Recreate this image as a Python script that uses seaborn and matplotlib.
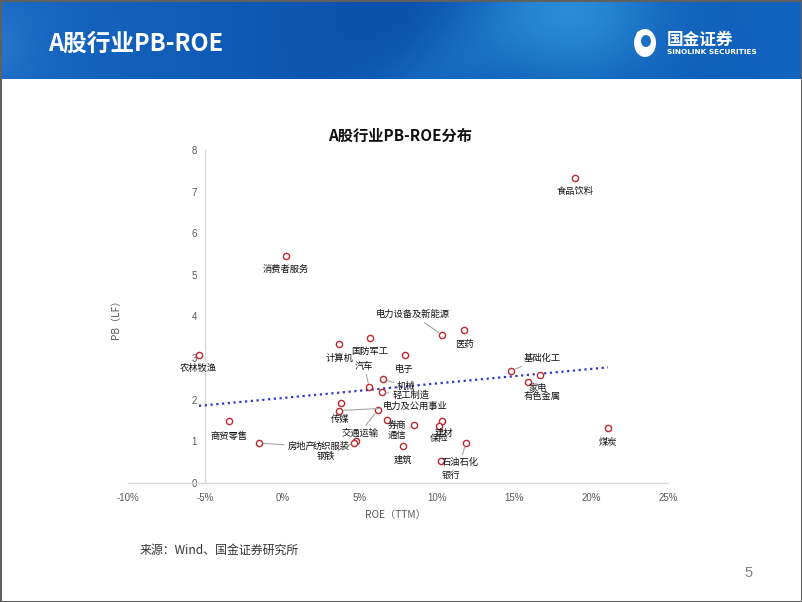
import numpy as np
import pandas as pd
import matplotlib
matplotlib.use('Agg')
import matplotlib.pyplot as plt
import seaborn as sns
from matplotlib.patches import Rectangle, Ellipse

# ---------------- data ----------------
industries = ['食品饮料', '消费者服务', '农林牧渔', '商贸零售', '房地产', '计算机', '国防军工',
              '电力设备及新能源', '医药', '电子', '汽车', '机械', '轻工制造', '传媒',
              '电力及公用事业', '交通运输', '券商', '通信', '纺织服装', '钢铁', '建材', '保险',
              '石油石化', '银行', '建筑', '基础化工', '家电', '有色金属', '煤炭']
roe = [18.97, 0.22, -5.40, -3.43, -1.49, 3.69, 5.68,
       10.35, 11.78, 7.97, 5.64, 6.55, 6.44, 3.80,
       3.69, 6.18, 6.77, 8.55, 4.76, 4.68, 10.33, 10.17,
       11.91, 10.29, 7.80, 14.82, 16.70, 15.92, 21.11]
pb = [7.33, 5.46, 3.08, 1.48, 0.96, 3.35, 3.49,
      3.56, 3.67, 3.07, 2.30, 2.49, 2.18, 1.92,
      1.74, 1.75, 1.51, 1.39, 1.02, 0.97, 1.50, 1.37,
      0.97, 0.54, 0.89, 2.70, 2.60, 2.43, 1.32]

x_ticks = [-10, -5, 0, 5, 10, 15, 20, 25]
x_tick_labels = ['-10%', '-5%', '0%', '5%', '10%', '15%', '20%', '25%']
y_ticks = [0, 1, 2, 3, 4, 5, 6, 7, 8]
y_tick_labels = ['0', '1', '2', '3', '4', '5', '6', '7', '8']

# label placement (pixel offsets from the point) and leader-line flag -- styling only
label_style = {
    '食品饮料': ((0, -14), False), '消费者服务': ((0, -14), False), '农林牧渔': ((-1, -14), False),
    '商贸零售': ((0, -15), False), '房地产': ((42, -3), True), '计算机': ((0, -14.5), False),
    '国防军工': ((0, -13.5), False), '电力设备及新能源': ((-29, 20), True), '医药': ((0, -14), False),
    '电子': ((-1, -14), False), '汽车': ((-5, 21), True), '机械': ((23, -7), True),
    '轻工制造': ((29, -3), True), '传媒': ((-1, -16), False), '电力及公用事业': ((76, 4), True),
    '交通运输': ((-18, -23), True), '券商': ((10, -6), True), '通信': ((-17, -10), True),
    '纺织服装': ((-25, -6), False), '钢铁': ((-29, -14), True), '建材': ((2, -12.5), False),
    '保险': ((0, -13), False), '石油石化': ((-6, -20), True), '银行': ((10, -15), False),
    '建筑': ((0, -14), False), '基础化工': ((31, 12), True), '家电': ((-2, -14), False),
    '有色金属': ((14, -15), False), '煤炭': ((0, -14), False),
}

df = pd.DataFrame({'industry': industries, 'roe': roe, 'pb': pb})

sns.set_theme(style='white')
plt.rcParams['font.family'] = ['Noto Sans CJK SC', 'DejaVu Sans']

W, H = 802, 602
fig = plt.figure(figsize=(W / 100, H / 100), dpi=100)
fig.patch.set_facecolor('white')

# ---------------- header band ----------------
HB = 79
hax = fig.add_axes([0, 1 - HB / H, 1, HB / H])
xx, yy = np.meshgrid(np.arange(W), np.arange(HB))
t = xx / W
c_left = np.array([24, 104, 194]) / 255
c_mid = np.array([8, 80, 170]) / 255
c_right = np.array([18, 100, 192]) / 255
w1 = np.clip(t / 0.5, 0, 1)[..., None]
w2 = np.clip((t - 0.5) / 0.5, 0, 1)[..., None]
img = np.where(t[..., None] < 0.5, c_left * (1 - w1) + c_mid * w1, c_mid * (1 - w2) + c_right * w2)
# diagonal lighter band
d = xx + 1.3 * yy
band = np.exp(-((d - 540) / 80) ** 2)[..., None] * 0.4
img = img * (1 - band) + np.array([40, 135, 215]) / 255 * band
# lighter cyan region top right
blob = np.exp(-(((xx - 575) / 85) ** 2 + ((yy - 15) / 70) ** 2))[..., None] * 0.55
img = img * (1 - blob) + np.array([60, 170, 235]) / 255 * blob
# soft light at far left
blob2 = np.exp(-(((xx + 10) / 45) ** 2 + ((yy - 45) / 40) ** 2))[..., None] * 0.3
img = img * (1 - blob2) + np.array([70, 150, 225]) / 255 * blob2
hax.imshow(np.clip(img, 0, 1), aspect='auto', extent=[0, W, HB, 0])
hax.set_xlim(0, W)
hax.set_ylim(HB, 0)
hax.axis('off')
hax.text(48, 44, 'A股行业PB-ROE', color='white', fontsize=17, fontweight='bold',
         ha='left', va='center')
# logo
hax.add_patch(Ellipse((645, 43), 22, 28, facecolor='white', edgecolor='none'))
hax.add_patch(Ellipse((646, 41), 10, 12, facecolor='#1a6fc4', edgecolor='none'))
hax.add_patch(Ellipse((640, 34), 7, 6, facecolor='white', edgecolor='none'))
hax.text(667, 39.5, '国金证券', color='white', fontsize=12, fontweight='bold', ha='left', va='center')
hax.text(667, 52.5, 'SINOLINK SECURITIES', color='white', fontsize=5.3, fontweight='bold',
         ha='left', va='center', family=['DejaVu Sans'])

# ---------------- main chart ----------------
ax = fig.add_axes([128 / W, (H - 483) / H, 540 / W, 333 / H])
ax.set_facecolor('none')
red = '#C0282D'
blue = '#3535C8'

coef = np.polyfit(df['roe'], df['pb'], 1)
xs = np.array([df['roe'].min(), df['roe'].max()])
sns.lineplot(x=xs, y=np.polyval(coef, xs), ax=ax, color=blue, linewidth=1.6,
             linestyle=(0, (1, 1.6)), zorder=3)
sns.scatterplot(data=df, x='roe', y='pb', ax=ax, s=20, color='white', edgecolor=red,
                linewidth=1.0, zorder=5, legend=False)

for name, x, y in zip(industries, roe, pb):
    (dx, dy), lead = label_style[name]
    kw = {}
    if lead:
        kw['arrowprops'] = dict(arrowstyle='-', color='#A6A6A6', lw=0.8, shrinkA=0, shrinkB=3)
    ax.annotate(name, xy=(x, y), xytext=(dx, dy), textcoords='offset pixels',
                ha='center', va='center', fontsize=6.7, color='#111111', zorder=6, **kw)

ax.set_xlim(-10, 25)
ax.set_ylim(0, 8)
ax.spines['top'].set_visible(False)
ax.spines['right'].set_visible(False)
ax.spines['left'].set_position(('data', -5))
ax.spines['left'].set_color('#D9D9D9')
ax.spines['bottom'].set_color('#D9D9D9')
ax.spines['left'].set_linewidth(1)
ax.spines['bottom'].set_linewidth(1)
ax.set_xticks(x_ticks)
ax.set_xticklabels(x_tick_labels)
ax.set_yticks(y_ticks)
ax.set_yticklabels(y_tick_labels)
ax.tick_params(axis='both', length=0, labelsize=7, labelcolor='#595959')
ax.tick_params(axis='x', pad=7)
ax.tick_params(axis='y', pad=6)
for lab in ax.get_xticklabels() + ax.get_yticklabels():
    lab.set_fontfamily(['Liberation Sans', 'DejaVu Sans'])
    lab.set_fontsize(7)
    lab.set_color('#595959')
ax.set_xlabel('')
ax.set_ylabel('')
ax.grid(False)

fig.text(395 / W, 1 - 515 / H, 'ROE（TTM）', fontsize=7.3, color='#595959', ha='center', va='center')
fig.text(116 / W, 1 - 317 / H, 'PB（LF）', fontsize=7.3, color='#595959', ha='center', va='center',
         rotation=90)
fig.text(400 / W, 1 - 136 / H, 'A股行业PB-ROE分布', fontsize=11, fontweight='bold', color='#111111',
         ha='center', va='center')
fig.text(140 / W, 1 - 550 / H, '来源：Wind、国金证券研究所', fontsize=8.6, color='#333333',
         ha='left', va='center', style='italic')
fig.text(749 / W, 1 - 573 / H, '5', fontsize=10.5, color='#808080', ha='center', va='center',
         family=['Liberation Sans', 'DejaVu Sans'])

fig.add_artist(Rectangle((0, 0), 1, 1, transform=fig.transFigure, fill=False,
                         edgecolor='#606060', linewidth=2.2))

fig.savefig('out.png', dpi=100)
